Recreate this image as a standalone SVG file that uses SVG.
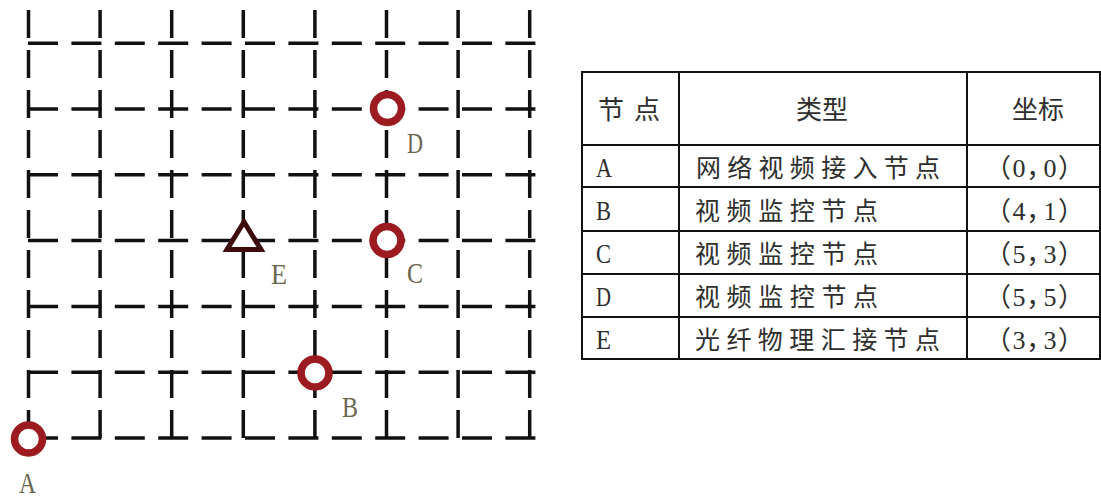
<svg xmlns="http://www.w3.org/2000/svg" width="1101" height="500" viewBox="0 0 1101 500">
<style>
.h{stroke:#111;stroke-width:3.5;stroke-dasharray:30 13.4;fill:none}
.v{stroke:#111;stroke-width:3.5;stroke-dasharray:28 12;fill:none}
.ring{fill:#fff;stroke:#9b1b20;stroke-width:7.5}
.tri{fill:#fff;stroke:#3d0b0b;stroke-width:5;stroke-linejoin:miter}
.lbl{font-family:"Liberation Serif",serif;font-size:30px;fill:#6b6650}
.tl{stroke:#111;stroke-width:2;fill:none}
.cjk{font-family:"Noto Sans CJK SC",sans-serif;font-size:25px;fill:#2e2e2e}
.co{font-family:"Liberation Serif","Noto Sans CJK SC",serif;font-size:26px;fill:#2e2e2e;font-feature-settings:"palt";letter-spacing:2.5px}
.hd{font-family:"Noto Sans CJK SC",sans-serif;font-size:26px;fill:#2e2e2e}
.lt{font-family:"Liberation Serif",serif;font-size:28px;fill:#2e2e2e}
</style>
<rect width="1101" height="500" fill="#fff"/>
<g id="connectors">
<line class="h" x1="28" y1="43.2" x2="536" y2="43.2"/>
<line class="h" x1="28" y1="109" x2="536" y2="109"/>
<line class="h" x1="28" y1="174.8" x2="536" y2="174.8"/>
<line class="h" x1="28" y1="240.6" x2="536" y2="240.6"/>
<line class="h" x1="28" y1="306.4" x2="536" y2="306.4"/>
<line class="h" x1="28" y1="372.2" x2="536" y2="372.2"/>
<line class="h" x1="28" y1="438" x2="536" y2="438"/>
<line class="v" x1="28.5" y1="10" x2="28.5" y2="438"/>
<line class="v" x1="100.1" y1="10" x2="100.1" y2="438"/>
<line class="v" x1="171.7" y1="10" x2="171.7" y2="438"/>
<line class="v" x1="243.3" y1="10" x2="243.3" y2="438"/>
<line class="v" x1="314.9" y1="10" x2="314.9" y2="438"/>
<line class="v" x1="386.5" y1="10" x2="386.5" y2="438"/>
<line class="v" x1="458.1" y1="10" x2="458.1" y2="438"/>
<line class="v" x1="529.7" y1="10" x2="529.7" y2="438"/>
</g>
<g id="node-A">
<circle class="ring" cx="28.5" cy="439" r="14"/>
<text class="lbl" x="19" y="493" font-size="27" textLength="17" lengthAdjust="spacingAndGlyphs">A</text>
</g>
<g id="node-B">
<circle class="ring" cx="315" cy="373" r="14"/>
<text class="lbl" x="342" y="417" textLength="16" lengthAdjust="spacingAndGlyphs">B</text>
</g>
<g id="node-C">
<circle class="ring" cx="387" cy="240.5" r="14"/>
<text class="lbl" x="407" y="283" textLength="16" lengthAdjust="spacingAndGlyphs">C</text>
</g>
<g id="node-D">
<circle class="ring" cx="387.5" cy="108.5" r="14"/>
<text class="lbl" x="407" y="153" textLength="16" lengthAdjust="spacingAndGlyphs">D</text>
</g>
<g id="node-E">
<polygon class="tri" points="244,222 227,249.5 261,249.5"/>
<text class="lbl" x="271" y="284" textLength="16" lengthAdjust="spacingAndGlyphs">E</text>
</g>
<g id="table">
<rect class="tl" x="582" y="72" width="518" height="287"/>
<line class="tl" x1="582" y1="145" x2="1100" y2="145"/>
<line class="tl" x1="582" y1="187" x2="1100" y2="187"/>
<line class="tl" x1="582" y1="231" x2="1100" y2="231"/>
<line class="tl" x1="582" y1="274" x2="1100" y2="274"/>
<line class="tl" x1="582" y1="317" x2="1100" y2="317"/>
<line class="tl" x1="679" y1="72" x2="679" y2="359"/>
<line class="tl" x1="967" y1="72" x2="967" y2="359"/>
<text class="hd" x="598" y="119" textLength="62" lengthAdjust="spacing">节点</text>
<text class="hd" x="822" y="119" text-anchor="middle">类型</text>
<text class="hd" x="1038" y="119" text-anchor="middle">坐标</text>
<text class="lt" x="596" y="177" textLength="16" lengthAdjust="spacingAndGlyphs">A</text>
<text class="lt" x="596" y="220" textLength="15" lengthAdjust="spacingAndGlyphs">B</text>
<text class="lt" x="596" y="263" textLength="15" lengthAdjust="spacingAndGlyphs">C</text>
<text class="lt" x="596" y="306" textLength="15" lengthAdjust="spacingAndGlyphs">D</text>
<text class="lt" x="596" y="349" textLength="15" lengthAdjust="spacingAndGlyphs">E</text>
<text class="cjk" x="696" y="177" textLength="244" lengthAdjust="spacing">网络视频接入节点</text>
<text class="cjk" x="695" y="220" textLength="183" lengthAdjust="spacing">视频监控节点</text>
<text class="cjk" x="695" y="263" textLength="183" lengthAdjust="spacing">视频监控节点</text>
<text class="cjk" x="695" y="306" textLength="183" lengthAdjust="spacing">视频监控节点</text>
<text class="cjk" x="695" y="349" textLength="245" lengthAdjust="spacing">光纤物理汇接节点</text>
<text class="co" x="997" y="177">（0，0）</text>
<text class="co" x="997" y="220">（4，1）</text>
<text class="co" x="997" y="263">（5，3）</text>
<text class="co" x="997" y="306">（5，5）</text>
<text class="co" x="997" y="349">（3，3）</text>
</g>
</svg>
